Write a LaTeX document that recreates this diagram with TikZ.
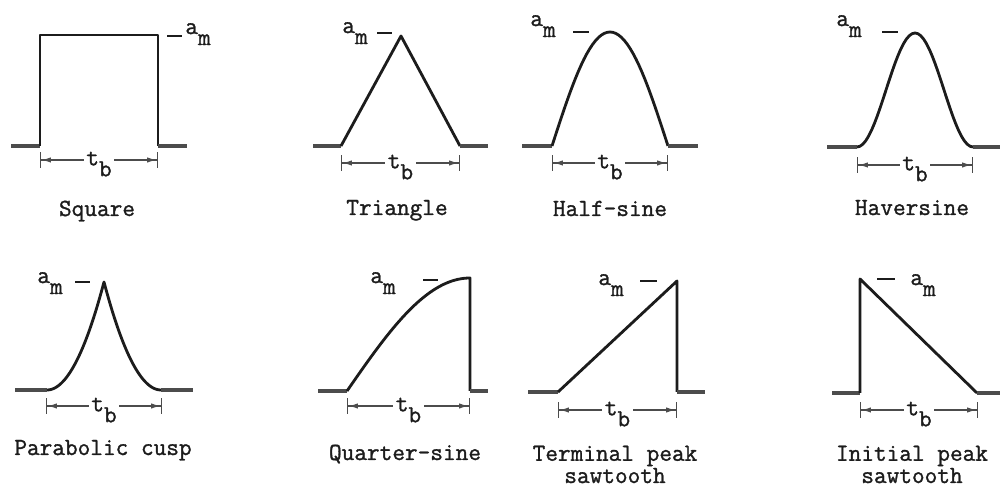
\documentclass[tikz,border=0pt]{standalone}
\usepackage{xcolor}
\usepackage{tikz}
\usepackage{fontspec}
\usetikzlibrary{arrows.meta}
\newfontfamily\typew{Latin Modern Mono}[FakeBold=1.2]
\definecolor{ink}{HTML}{1C1C1C}
\definecolor{pencil}{HTML}{4C4C4C}
\newcommand{\amlabel}{a\raisebox{-0.45em}{m}}
\newcommand{\tblabel}{t\raisebox{-0.45em}{b}}

\begin{document}
\begin{tikzpicture}[x=0.02cm, y=-0.02cm,
  wave/.style={ink, line width=1.6pt, line join=round},
  stub/.style={pencil, line width=2.2pt},
  lvl/.style={ink, line width=1pt},
  dimline/.style={pencil, line width=0.7pt,
    {Bar[width=9pt]Latex[length=5.5pt,width=3pt]}-{Latex[length=5.5pt,width=3pt]Bar[width=9pt]}},
  tb/.style={font=\fontsize{14}{16}\selectfont\typew, text=ink, fill=white, inner sep=1.5pt, anchor=base, yshift=-3pt},
  amp/.style={font=\fontsize{14}{16}\selectfont\typew, text=ink, anchor=base west, inner sep=0pt},
  ttl/.style={font=\fontsize{14}{11.5}\selectfont\typew, text=ink, anchor=base, align=center}]
  \useasboundingbox[fill=white] (0,0) rectangle (1000,492);

  % Square
  \draw[stub] (11,146) -- (40,146);
  \draw[wave] (40,146) -- (40,35) -- (158,35) -- (158,146);
  \draw[stub] (158,146) -- (187,146);
  \draw[lvl] (167,36) -- (182,36);
  \node[amp] (sqam) at (185,34) {\amlabel};
  \coordinate (sqL) at (40,160);
  \coordinate (sqR) at (158,160);
  \draw[dimline] (sqL) -- (sqR) node[tb, midway] (sqtb) {\tblabel};
  \node[ttl] (sqname) at (97,216) {Square};

  % Triangle
  \draw[stub] (313,146) -- (341,146);
  \draw[wave] (341,146) -- (401,36) -- (460,146);
  \draw[stub] (460,146) -- (488,146);
  \draw[lvl] (377,33) -- (392,33);
  \node[amp] (tram) at (342,33) {\amlabel};
  \coordinate (trL) at (341,163);
  \coordinate (trR) at (460,163);
  \draw[dimline] (trL) -- (trR) node[tb, midway] (trtb) {\tblabel};
  \node[ttl] (trname) at (397,215) {Triangle};

  % Half-sine
  \draw[stub] (522,146) -- (552,146);
  \draw[wave] plot[domain=0:1, samples=41] ({552+116*\x}, {146-114*sin(180*\x)});
  \draw[stub] (668,146) -- (698,146);
  \draw[lvl] (573,32) -- (589,32);
  \node[amp] (hsam) at (530,26) {\amlabel};
  \coordinate (hsL) at (552,163);
  \coordinate (hsR) at (668,163);
  \draw[dimline] (hsL) -- (hsR) node[tb, midway] (hstb) {\tblabel};
  \node[ttl] (hsname) at (610,216) {Half-sine};

  % Haversine
  \draw[stub] (827,147) -- (857,147);
  \draw[wave] plot[domain=0:1, samples=41] ({857+116*\x}, {147-57*(1-cos(360*\x))});
  \draw[stub] (973,147) -- (1000,147);
  \draw[lvl] (882,32) -- (898,32);
  \node[amp] (hvam) at (836,26) {\amlabel};
  \coordinate (hvL) at (857,165);
  \coordinate (hvR) at (973,165);
  \draw[dimline] (hvL) -- (hvR) node[tb, midway] (hvtb) {\tblabel};
  \node[ttl] (hvname) at (912,215) {Haversine};

  % Parabolic cusp
  \draw[stub] (15,390) -- (47,390);
  \draw[wave] plot[domain=0:1, samples=41] ({47+57*\x}, {390-108*\x*\x})
    -- plot[domain=1:0, samples=41] ({161-57*\x}, {390-108*\x*\x});
  \draw[stub] (161,390) -- (193,390);
  \draw[lvl] (75,282) -- (90,282);
  \node[amp] (pcam) at (37,283) {\amlabel};
  \coordinate (pcL) at (46,406);
  \coordinate (pcR) at (162,406);
  \draw[dimline] (pcL) -- (pcR) node[tb, midway] (pctb) {\tblabel};
  \node[ttl] (pcname) at (103,455) {Parabolic cusp};

  % Quarter-sine
  \draw[stub] (318,391) -- (347,391);
  \draw[wave] plot[domain=0:1, samples=41] ({347+123*\x}, {391-113*sin(90*\x)}) -- (470,391);
  \draw[stub] (470,391) -- (488,391);
  \draw[lvl] (423,280) -- (438,280);
  \node[amp] (qsam) at (370,283) {\amlabel};
  \coordinate (qsL) at (347,406);
  \coordinate (qsR) at (470,406);
  \draw[dimline] (qsL) -- (qsR) node[tb, midway] (qstb) {\tblabel};
  \node[ttl] (qsname) at (405,460) {Quarter-sine};

  % Terminal peak sawtooth
  \draw[stub] (528,392) -- (558,392);
  \draw[wave] (558,392) -- (677,281) -- (677,392);
  \draw[stub] (677,392) -- (705,392);
  \draw[lvl] (640,281) -- (657,281);
  \node[amp] (tpam) at (598,285) {\amlabel};
  \coordinate (tpL) at (558,410);
  \coordinate (tpR) at (677,410);
  \draw[dimline] (tpL) -- (tpR) node[tb, midway] (tptb) {\tblabel};
  \node[ttl] (tpname) at (615,483) {Terminal peak\\sawtooth};

  % Initial peak sawtooth
  \draw[stub] (832,393) -- (860,393);
  \draw[wave] (860,393) -- (860,279) -- (977,393);
  \draw[stub] (977,393) -- (1000,393);
  \draw[lvl] (877,279) -- (895,279);
  \node[amp] (ipam) at (910,285) {\amlabel};
  \coordinate (ipL) at (860,410);
  \coordinate (ipR) at (978,410);
  \draw[dimline] (ipL) -- (ipR) node[tb, midway] (iptb) {\tblabel};
  \node[ttl] (ipname) at (912,483) {Initial peak\\sawtooth};
\end{tikzpicture}
\end{document}
